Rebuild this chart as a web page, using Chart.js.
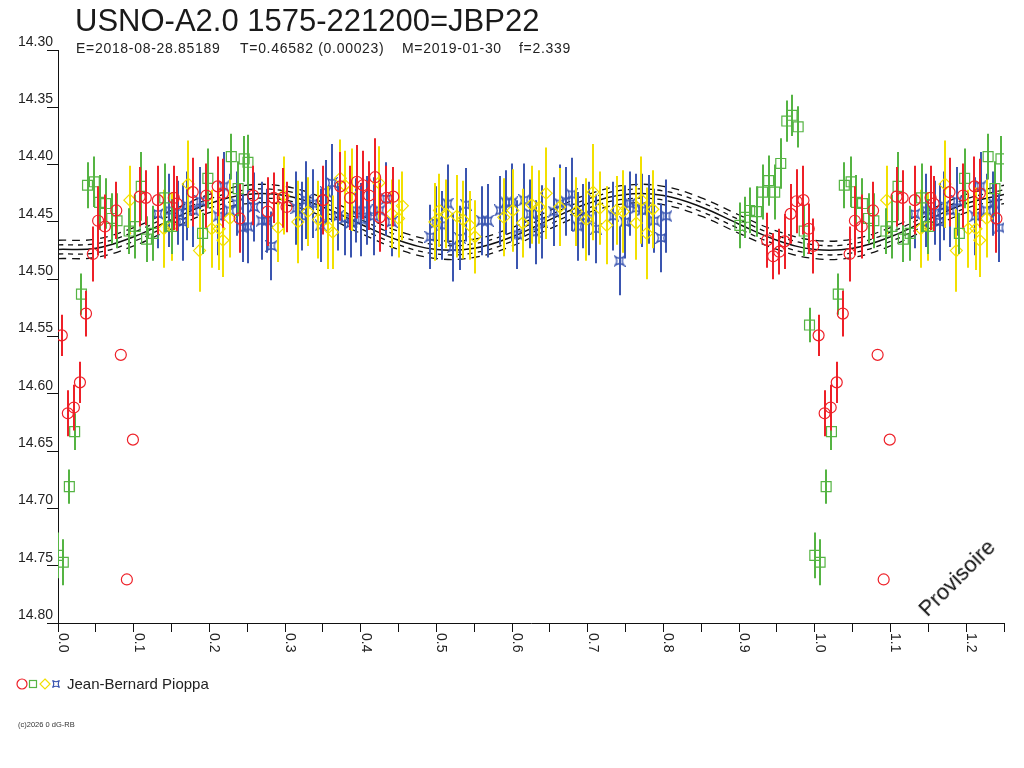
<!DOCTYPE html>
<html>
<head>
<meta charset="utf-8">
<script src="https://cdn.jsdelivr.net/npm/chart.js@4.4.1/dist/chart.umd.min.js"></script>
<style>
  body { margin: 0; background: #fff; font-family: "Liberation Sans", Arial, sans-serif; color: #222; }
  #wrap { position: relative; width: 1024px; height: 768px; overflow: hidden; }
  #lc { position: absolute; left: 0; top: 0; }
  .t { position: absolute; white-space: pre; line-height: 1; }
  .sub { font-size: 14px; letter-spacing: 0.7px; top: 41px; }
</style>
</head>
<body>
<div id="wrap">
  <canvas id="lc" width="1024" height="768"></canvas>
  <div class="t" style="left:75px;top:5px;font-size:31px;color:#1a1a1a">USNO-A2.0 1575-221200=JBP22</div>
  <div class="t sub" style="left:76px">E=2018-08-28.85189</div>
  <div class="t sub" style="left:240px">T=0.46582 (0.00023)</div>
  <div class="t sub" style="left:402px">M=2019-01-30</div>
  <div class="t sub" style="left:519px">f=2.339</div>
  <svg style="position:absolute;left:14px;top:676px" width="52" height="16">
    <circle cx="8" cy="8" r="5" fill="none" stroke="#ee2028" stroke-width="1.2"/>
    <rect x="15.5" y="4.5" width="7" height="7" fill="none" stroke="#55b443" stroke-width="1.2"/>
    <path d="M31 3 L36 8 L31 13 L26 8 Z" fill="none" stroke="#f2e000" stroke-width="1.2"/>
    <path d="M38.5 4.5 Q42 7 45.5 4.5 Q43 8 45.5 11.5 Q42 9 38.5 11.5 Q41 8 38.5 4.5 Z" fill="none" stroke="#3a55b0" stroke-width="1.2"/>
  </svg>
  <div class="t" style="left:67px;top:676px;font-size:15px">Jean-Bernard Pioppa</div>
  <div class="t" style="left:18px;top:721px;font-size:7.5px;color:#333">(c)2026 0 dG-RB</div>
  <div class="t" style="left:957px;top:578px;font-size:22px;color:#111;transform:translate(-50%,-50%) rotate(-45deg)">Provisoire</div>
</div>
<script>
// phase-folded light curve, magnitudes
const redPhase = [0.005,0.013,0.021,0.029,0.037,0.046,0.053,0.062,0.077,0.083,0.091,0.099,0.108,0.116,0.132,0.153,0.157,0.178,0.196,0.211,0.218,0.240,0.258,0.277,0.285,0.297,0.302,0.350,0.373,0.386,0.395,0.403,0.411,0.419,0.425,0.434,0.443,0.937,0.945,0.953,0.960,0.968,0.976,0.985,0.992,0.998];
const redMag = [14.549,14.617,14.612,14.590,14.530,14.478,14.449,14.454,14.440,14.566,14.762,14.640,14.428,14.429,14.431,14.429,14.434,14.424,14.427,14.419,14.425,14.447,14.427,14.441,14.429,14.429,14.437,14.431,14.419,14.429,14.415,14.418,14.427,14.411,14.446,14.429,14.428,14.466,14.480,14.476,14.467,14.443,14.432,14.431,14.456,14.471];
const redErr = [0.018,0.020,0.020,0.018,0.020,0.024,0.030,0.028,0.025,0,0,0,0.026,0.024,0.030,0.028,0.024,0.030,0.028,0.026,0.030,0.030,0.026,0.030,0.022,0.026,0.022,0.030,0.030,0.028,0.032,0.030,0.030,0.034,0.030,0.028,0.026,0.024,0.020,0.020,0.024,0.026,0.028,0.030,0.022,0.024];

const greenPhase = [0.000,0.007,0.015,0.022,0.031,0.039,0.048,0.055,0.063,0.071,0.078,0.094,0.102,0.110,0.117,0.126,0.141,0.150,0.191,0.198,0.229,0.238,0.246,0.251,0.901,0.908,0.914,0.923,0.931,0.939,0.947,0.955,0.963,0.970,0.978,0.986,0.993];
const greenMag = [14.741,14.747,14.681,14.633,14.513,14.418,14.415,14.433,14.434,14.447,14.449,14.458,14.454,14.419,14.465,14.460,14.429,14.454,14.460,14.412,14.393,14.421,14.395,14.398,14.453,14.446,14.440,14.441,14.424,14.414,14.424,14.399,14.362,14.357,14.367,14.458,14.540];
const greenErr = [0.020,0.020,0.015,0.016,0.018,0.020,0.022,0.024,0.022,0.022,0.024,0.020,0.028,0.030,0.020,0.024,0.030,0.024,0.018,0.026,0.020,0.024,0.020,0.024,0.020,0.018,0.020,0.022,0.024,0.022,0.024,0.022,0.018,0.018,0.018,0.022,0.015];

const yellowPhase = [0.095,0.140,0.150,0.172,0.187,0.203,0.213,0.218,0.227,0.291,0.298,0.317,0.330,0.344,0.357,0.363,0.373,0.379,0.388,0.424,0.441,0.450,0.455,0.498,0.504,0.513,0.527,0.535,0.544,0.551,0.589,0.601,0.614,0.626,0.636,0.645,0.663,0.685,0.698,0.707,0.716,0.725,0.738,0.747,0.764,0.771,0.778,0.786];
const yellowMag = [14.431,14.456,14.454,14.417,14.475,14.456,14.456,14.466,14.447,14.455,14.427,14.450,14.441,14.448,14.455,14.459,14.412,14.418,14.422,14.416,14.443,14.447,14.436,14.450,14.440,14.443,14.445,14.448,14.453,14.463,14.446,14.440,14.451,14.435,14.437,14.425,14.437,14.441,14.448,14.424,14.438,14.453,14.440,14.441,14.451,14.431,14.460,14.439];
const yellowErr = [0.030,0.034,0.030,0.038,0.036,0.034,0.036,0.032,0.034,0.030,0.034,0.036,0.030,0.034,0.036,0.032,0.034,0.030,0.036,0.032,0.030,0.034,0.030,0.034,0.032,0.030,0.036,0.034,0.030,0.032,0.034,0.036,0.030,0.034,0.032,0.040,0.034,0.030,0.036,0.042,0.032,0.034,0.030,0.036,0.032,0.038,0.040,0.034];

const bluePhase = [0.132,0.147,0.159,0.165,0.171,0.179,0.188,0.212,0.219,0.227,0.236,0.244,0.251,0.259,0.269,0.276,0.282,0.315,0.323,0.328,0.337,0.347,0.354,0.362,0.370,0.379,0.387,0.394,0.401,0.408,0.417,0.425,0.434,0.441,0.492,0.499,0.508,0.515,0.522,0.531,0.539,0.560,0.568,0.584,0.592,0.600,0.607,0.616,0.624,0.631,0.639,0.655,0.663,0.671,0.679,0.687,0.694,0.702,0.711,0.734,0.742,0.749,0.756,0.764,0.772,0.781,0.788,0.797,0.804];
const blueMag = [14.443,14.440,14.442,14.450,14.436,14.440,14.432,14.445,14.419,14.440,14.434,14.455,14.454,14.437,14.449,14.449,14.471,14.438,14.445,14.431,14.434,14.453,14.424,14.416,14.445,14.447,14.451,14.440,14.448,14.440,14.445,14.440,14.430,14.450,14.463,14.451,14.453,14.434,14.472,14.464,14.435,14.449,14.449,14.440,14.433,14.433,14.461,14.431,14.443,14.459,14.450,14.441,14.434,14.432,14.426,14.454,14.445,14.447,14.456,14.445,14.484,14.450,14.434,14.438,14.440,14.439,14.449,14.464,14.445];
const blueErr = [0.030,0.032,0.028,0.034,0.030,0.032,0.030,0.034,0.030,0.032,0.028,0.030,0.032,0.030,0.034,0.028,0.030,0.032,0.030,0.034,0.030,0.032,0.028,0.034,0.030,0.032,0.030,0.028,0.032,0.030,0.034,0.030,0.032,0.030,0.028,0.032,0.030,0.034,0.030,0.028,0.032,0.030,0.032,0.030,0.028,0.034,0.030,0.032,0.030,0.028,0.032,0.030,0.034,0.030,0.032,0.030,0.028,0.032,0.030,0.030,0.030,0.032,0.028,0.030,0.032,0.030,0.028,0.030,0.032];

// model curve and its +/- bands
const curvePhase = [0,0.05,0.10,0.15,0.20,0.25,0.30,0.35,0.40,0.45,0.50,0.55,0.60,0.65,0.70,0.75,0.80,0.85,0.90,0.95,1.00,1.05,1.10,1.15,1.20,1.25];
const curveMag = [14.474,14.473,14.463,14.448,14.434,14.426,14.427,14.437,14.452,14.466,14.474,14.473,14.463,14.448,14.434,14.426,14.427,14.437,14.452,14.466,14.474,14.473,14.463,14.448,14.434,14.426];
const bandOffsets = [0.004, 0.008];

const xTickLabels = ['0.0','0.1','0.2','0.3','0.4','0.5','0.6','0.7','0.8','0.9','1.0','1.1','1.2'];
const phaseRepeat = 0.25;

const FONT = '"Liberation Sans", Arial, sans-serif';

// points with phase < 0.25 are shown again one cycle later
function fold(phase, mag, err) {
    const pts = [], errs = [];
    phase.forEach((p, i) => { pts.push({x: p, y: mag[i]}); errs.push(err[i]); });
    phase.forEach((p, i) => {
        if (p < phaseRepeat) { pts.push({x: p + 1, y: mag[i]}); errs.push(err[i]); }
    });
    return {pts, errs};
}

function starSymbol(color) {
    const c = document.createElement('canvas');
    c.width = 12; c.height = 12;
    const g = c.getContext('2d');
    g.strokeStyle = color;
    g.lineWidth = 1.3;
    g.beginPath();
    g.moveTo(1.5, 1.5);
    g.quadraticCurveTo(6, 5, 10.5, 1.5);
    g.quadraticCurveTo(7, 6, 10.5, 10.5);
    g.quadraticCurveTo(6, 7, 1.5, 10.5);
    g.quadraticCurveTo(5, 6, 1.5, 1.5);
    g.closePath();
    g.stroke();
    return c;
}

const RED = '#ee2028', GREEN = '#55b443', YELLOW = '#f2e000', BLUE = '#3a55b0';

function series(phase, mag, err, color, style, radius) {
    const f = fold(phase, mag, err);
    return {
        data: f.pts,
        errors: f.errs,
        borderColor: color,
        backgroundColor: 'rgba(0,0,0,0)',
        pointStyle: style,
        pointRadius: radius,
        pointBorderWidth: 1.2,
        showLine: false
    };
}

function curve(offset, dash, width) {
    return {
        data: curvePhase.map((p, i) => ({x: p, y: curveMag[i] + offset})),
        borderColor: '#111',
        borderWidth: width,
        borderDash: dash,
        pointRadius: 0,
        showLine: true,
        tension: 0.4,
        fill: false
    };
}

// vertical error bars, drawn just under each series' markers
const errorBars = {
    id: 'errorBars',
    beforeDatasetDraw(chart, args) {
        const ds = chart.data.datasets[args.index];
        if (!ds.errors) return;
        const {ctx, chartArea} = chart;
        const x = chart.scales.x, y = chart.scales.y;
        ctx.save();
        ctx.beginPath();
        ctx.rect(chartArea.left, chartArea.top, chartArea.right - chartArea.left, chartArea.bottom - chartArea.top);
        ctx.clip();
        ctx.strokeStyle = ds.borderColor;
        ctx.lineWidth = 2;
        ds.data.forEach((p, i) => {
            if (!ds.errors[i]) return;
            const px = Math.round(x.getPixelForValue(p.x));
            ctx.beginPath();
            ctx.moveTo(px, y.getPixelForValue(p.y - ds.errors[i]));
            ctx.lineTo(px, y.getPixelForValue(p.y + ds.errors[i]));
            ctx.stroke();
        });
        ctx.restore();
    }
};

// x labels rotated to read top to bottom
const xLabels = {
    id: 'xLabels',
    afterDraw(chart) {
        const {ctx} = chart;
        const x = chart.scales.x;
        ctx.save();
        ctx.fillStyle = '#222';
        ctx.font = '14px ' + FONT;
        ctx.textAlign = 'left';
        ctx.textBaseline = 'alphabetic';
        xTickLabels.forEach(l => {
            const px = x.getPixelForValue(parseFloat(l));
            ctx.save();
            ctx.translate(px + 1, x.bottom - 30);
            ctx.rotate(Math.PI / 2);
            ctx.fillText(l, 0, 0);
            ctx.restore();
        });
        ctx.restore();
    }
};

const datasets = [
    series(redPhase, redMag, redErr, RED, 'circle', 5.5),
    series(greenPhase, greenMag, greenErr, GREEN, 'rect', 7),
    series(yellowPhase, yellowMag, yellowErr, YELLOW, 'rectRot', 6),
    series(bluePhase, blueMag, blueErr, BLUE, starSymbol(BLUE), 6),
    curve(-bandOffsets[1], [8, 6], 1.3),
    curve(-bandOffsets[0], [5, 5], 1.3),
    curve(0, [], 1.5),
    curve(bandOffsets[0], [5, 5], 1.3),
    curve(bandOffsets[1], [8, 6], 1.3)
];

new Chart(document.getElementById('lc'), {
    type: 'scatter',
    data: {datasets: datasets},
    plugins: [errorBars, xLabels],
    options: {
        responsive: false,
        animation: false,
        devicePixelRatio: 1,
        layout: {padding: {left: 0, right: 20, top: 50, bottom: 105}},
        plugins: {legend: {display: false}, tooltip: {enabled: false}},
        scales: {
            x: {
                type: 'linear',
                min: 0,
                max: 1.25,
                ticks: {stepSize: 0.05, display: false},
                grid: {drawOnChartArea: false, drawTicks: true, tickLength: 9, color: '#111'},
                border: {color: '#111', width: 1},
                afterFit: s => { s.height = 40; }
            },
            y: {
                reverse: true,
                min: 14.30,
                max: 14.80,
                ticks: {
                    stepSize: 0.05,
                    padding: -6,
                    labelOffset: -8,
                    color: '#222',
                    font: {family: FONT, size: 14},
                    callback: v => v.toFixed(2)
                },
                grid: {drawOnChartArea: false, drawTicks: true, tickLength: 11, color: '#111'},
                border: {color: '#111', width: 1},
                afterFit: s => { s.width = 58; }
            }
        }
    }
});
</script>
</body>
</html>
